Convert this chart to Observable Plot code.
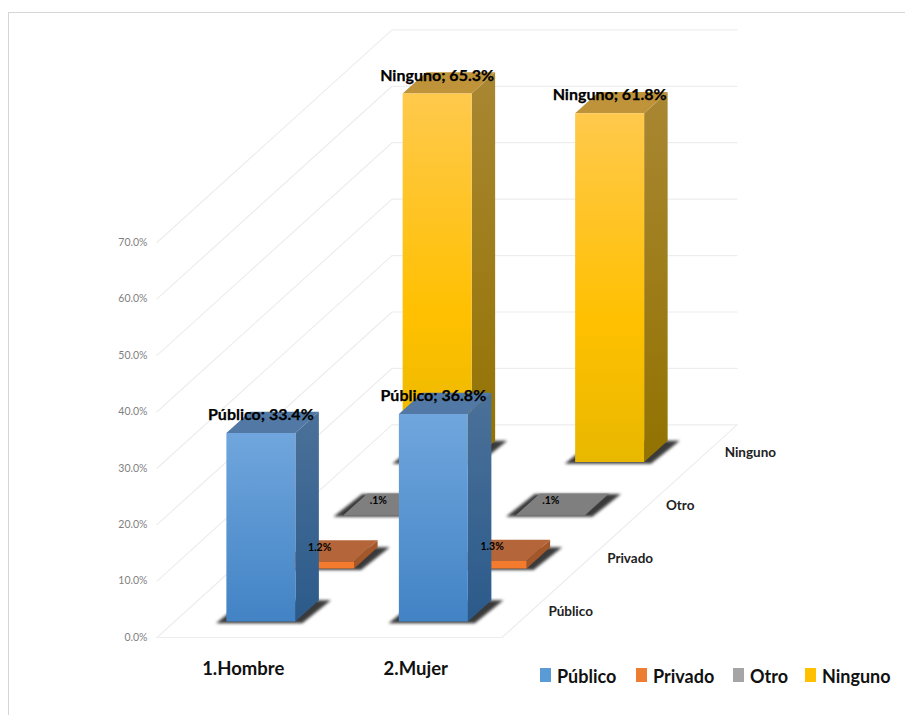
<!DOCTYPE html>
<html lang="es">
<head>
<meta charset="utf-8">
<script src="https://cdn.jsdelivr.net/npm/d3@7"></script>
<script src="https://cdn.jsdelivr.net/npm/@observablehq/plot@0.6"></script>
<style>
  html, body { margin: 0; background: #fff; }
  #chart { position: relative; width: 905px; height: 715px; overflow: hidden; font-family: Lato, "Open Sans", sans-serif; }
  #chart svg { position: absolute; left: 0; top: 0; background: none; }
  #border { position: absolute; left: 8px; top: 12px; right: 0; bottom: 0; border-left: 1px solid #d6d6d6; border-top: 1px solid #d6d6d6; }
  #legend span { position: absolute; top: 663px; font-weight: bold; font-size: 18px; line-height: 26px; color: #111; }
  #legend i { position: absolute; top: 668px; width: 11px; height: 14px; }
</style>
</head>
<body>
<div id="chart"><div id="border"></div><div id="legend"></div></div>
<script>
// Survey shares by sex (columns) and health-insurance type (rows in depth)
const categories = ["1.Hombre", "2.Mujer"];
const series = ["Público", "Privado", "Otro", "Ninguno"];
const hombre = [33.4, 1.2, 0.1, 65.3];
const mujer = [36.8, 1.3, 0.1, 61.8];
const yTicks = [0, 10, 20, 30, 40, 50, 60, 70];
const values = [hombre, mujer];

// Oblique projection: one step back along the depth axis shifts a point
// right (in category units) and up (in percent units).
const depthX = 0.3406;
const depthY = 9.42;
const depthSlots = series.length;
const barInset = 0.3;
const project = (c, d, v) => ({x: c + d * depthX, y: v + d * depthY});

const faceColors = {
  "Público": {top: "#5279a5", front: "url(#front0)", side: "url(#side0)"},
  "Privado": {top: "#b4663a", front: "#f47a2d", side: "#a4582a"},
  "Otro": {top: "#7f7f7f", front: "#a5a5a5", side: "#6d6d6d"},
  "Ninguno": {top: "#bf9339", front: "url(#front3)", side: "url(#side3)"}
};
const gradients = [
  ["front0", [[0, "#70a6dd"], [1, "#4283c5"]]],
  ["side0", [[0, "#4b7199"], [1, "#2b5a8a"]]],
  ["front3", [[0, "#ffc94c"], [0.6, "#ffc000"], [1, "#e8b800"]]],
  ["side3", [[0, "#a98733"], [1, "#927200"]]]
];

const gradientDefs = () => {
  const defs = d3.create("svg:defs");
  for (const [id, stops] of gradients) {
    const g = defs.append("linearGradient").attr("id", id).attr("x1", 0).attr("y1", 0).attr("x2", 0).attr("y2", 1);
    for (const [o, c] of stops) g.append("stop").attr("offset", o).attr("stop-color", c);
  }
  return defs.node();
};

// Faces of one bar as closed polygons, for a line mark with a fill
function barFaces(c, s) {
  const v = values[c][s], name = series[s];
  const x0 = c + barInset, x1 = c + 1 - barInset, d0 = s + barInset, d1 = s + 1 - barInset;
  const polys = {
    side: [[x1, d0, 0], [x1, d1, 0], [x1, d1, v], [x1, d0, v]],
    top: [[x0, d0, v], [x1, d0, v], [x1, d1, v], [x0, d1, v]],
    front: [[x0, d0, 0], [x1, d0, 0], [x1, d0, v], [x0, d0, v]]
  };
  return Object.entries(polys).flatMap(([face, pts]) =>
    pts.map(([px, pd, pv]) => ({...project(px, pd, pv), id: `${c}-${s}-${face}`, fill: faceColors[name][face]})));
}

function barShadow(c, s) {
  const x0 = c + barInset - 0.05, x1 = c + 1 - barInset + 0.05, d0 = s + barInset - 0.03, d1 = s + 1 - barInset;
  return [[x0, d0], [x1, d0], [x1 + 0.02, d1], [x0 + 0.02, d1]]
    .map(([px, pd]) => ({...project(px, pd, 0), id: `${c}-${s}`}));
}

// Back-to-front painting order
const layers = d3.range(depthSlots).reverse().flatMap((s) => {
  const both = d3.range(categories.length);
  return [
    Plot.line(both.flatMap((c) => barShadow(c, s)), {x: "x", y: "y", z: "id", fill: "#3a3a3a", stroke: "none", curve: "linear", imageFilter: "blur(1.4px)"}),
    Plot.line(both.flatMap((c) => barFaces(c, s)), {x: "x", y: "y", z: "id", fill: "fill", stroke: "none", curve: "linear"})
  ];
});

// Side wall, back wall and floor outline
const wallLines = yTicks.flatMap((t) => [
  {...project(0, 0, t), id: t},
  {...project(0, depthSlots, t), id: t},
  {...project(categories.length, depthSlots, t), id: t}
]);
const floorEdge = [project(0, 0, 0), project(categories.length, 0, 0), project(categories.length, depthSlots, 0)];

const barLabels = categories.flatMap((_, c) => series.map((name, s) => {
  const v = values[c][s];
  const big = v >= 5;
  const pct = `${v.toFixed(1).replace(/^0/, "")}%`;
  return {...project(c + 0.5, s + barInset, v), text: big ? `${name}; ${pct}` : pct, big};
}));

const depthLabels = series.map((name, s) => ({...project(categories.length, s + 0.5, 0), name}));

const plot = Plot.plot({
  width: 905,
  height: 715,
  marginLeft: 156.5,
  marginRight: 0,
  marginTop: 0,
  marginBottom: 78,
  style: {fontFamily: 'Lato, "Open Sans", sans-serif', background: "none"},
  color: {type: "identity"},
  x: {domain: [0, 748.5 / 172.5]},
  y: {domain: [0, 637 / 5.643]},
  marks: [
    gradientDefs,
    Plot.line(wallLines, {x: "x", y: "y", z: "id", stroke: "#ededed", strokeWidth: 1.2, curve: "linear"}),
    Plot.line(floorEdge, {x: "x", y: "y", stroke: "#ededed", strokeWidth: 1.2, curve: "linear"}),
    Plot.axisY({ticks: yTicks, tickFormat: (d) => `${d.toFixed(1)}%`, tickSize: 0, tickPadding: 9.5, label: null, fontSize: 10.5, fill: "#7f7f7f"}),
    Plot.axisX({ticks: categories.map((_, c) => c + 0.5), tickFormat: (d) => categories[Math.floor(d)], tickSize: 0, tickPadding: 24, label: null, fontSize: 18.5, fontWeight: "bold", fill: "#111"}),
    ...layers,
    Plot.text(depthLabels, {x: "x", y: "y", text: "name", textAnchor: "start", dx: 17, dy: 1, fontSize: 13.5, fontWeight: "bold", fill: "#222"}),
    Plot.text(barLabels.filter((d) => d.big), {x: "x", y: "y", text: "text", dy: -18, fontSize: 16, fontWeight: "bold", fill: "#000", stroke: "#000", strokeWidth: 0.25}),
    Plot.text(barLabels.filter((d) => !d.big), {x: "x", y: "y", text: "text", dy: -14, fontSize: 10.5, fontWeight: "bold", fill: "#000"})
  ]
});
document.getElementById("chart").appendChild(plot);

// Legend row set alongside the category labels
const legendSwatches = ["#5b9bd5", "#ed7d31", "#a5a5a5", "#ffc000"];
const legendSlots = [540, 636, 733, 805];
const legend = d3.select("#legend");
series.forEach((name, i) => {
  legend.append("i").style("left", `${legendSlots[i]}px`).style("background", legendSwatches[i]);
  legend.append("span").style("left", `${legendSlots[i] + 17}px`).text(name);
});
</script>
</body>
</html>
